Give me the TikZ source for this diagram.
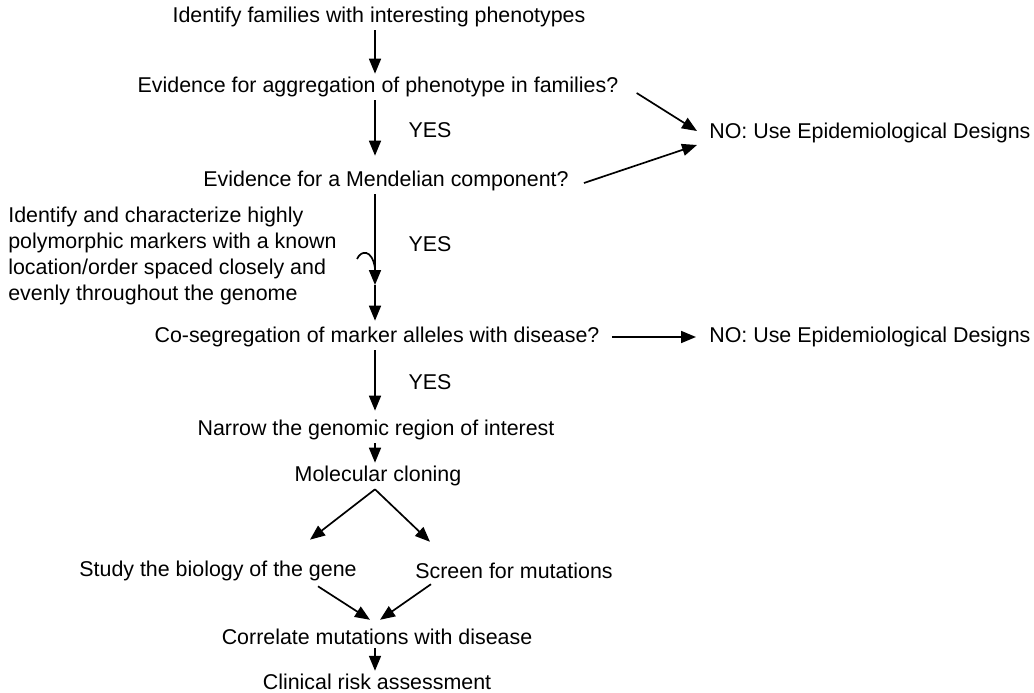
\documentclass[tikz,border=0pt]{standalone}
\usepackage{fontspec}
\setmainfont{Liberation Sans}
\usetikzlibrary{arrows.meta,calc,positioning}

\begin{document}
\begin{tikzpicture}[x=1pt,y=-1pt,font=\fontsize{21.4}{26}\selectfont,>={Triangle[length=15pt,width=12pt]},
    line width=1.7pt,every node/.style={inner sep=2.5pt}]
  \useasboundingbox (0,0) rectangle (1034,693);
  \coordinate (spine) at (375,0);
  % main column
  \node (ident) at (379,17) {Identify families with interesting phenotypes};
  \node (aggr) at (378,87) {Evidence for aggregation of phenotype in families?};
  \node (mendel) at (386,181) {Evidence for a Mendelian component?};
  \node[anchor=west,align=left] (markers) at (5,256)
    {Identify and characterize highly\\polymorphic markers with a known\\location/order spaced closely and\\evenly throughout the genome};
  \node (coseg) at (377,337) {Co-segregation of marker alleles with disease?};
  \node (narrow) at (376,430) {Narrow the genomic region of interest};
  \node (clone) at (378,476) {Molecular cloning};
  \node (biology) at (218,571) {Study the biology of the gene};
  \node (screen) at (514,571) {Screen for mutations};
  \node (correl) at (377,637) {Correlate mutations with disease};
  \node (clinical) at (377,682) {Clinical risk assessment};
  % side branches
  \node[anchor=west] (noA) at (706,133) {NO: Use Epidemiological Designs};
  \node[anchor=west] (noB) at (706,337) {NO: Use Epidemiological Designs};
  \foreach \y/\n in {130/yesA,244/yesB,382/yesC} \node (\n) at (430,\y) {YES};
  \coordinate (join) at (375,285);
  \coordinate (hook) at (357,259);
  % connectors
  \draw[->] (ident.south -| spine) -- (aggr.north -| spine);
  \draw[->,shorten >=12pt] (aggr.south -| spine) -- (mendel.north -| spine);
  \draw[->] (mendel.south -| spine) -- (join);
  \draw[->,shorten >=3pt] (join) -- (coseg.north -| spine);
  \draw (hook) .. controls (361,250) and (372,249) .. (375,268);
  \draw[->,shorten >=6pt] (coseg.south -| spine) -- (narrow.north -| spine);
  \draw[->] (narrow.south -| spine) -- (clone.north -| spine);
  \draw[->] ($(aggr.east)+(15,6)$) -- ($(noA.west)+(-9,-2)$);
  \draw[->] ($(mendel.east)+(12,2)$) -- ($(noA.west)+(-9,12)$);
  \draw[->] ($(coseg.east)+(9,0)$) -- ($(noB.west)+(-10,0)$);
  \draw[->] ($(clone.south)+(-3,0)$) -- ($(biology.north)+(92,-18)$);
  \draw[->] ($(clone.south)+(-3,0)$) -- ($(screen.north)+(-84,-18)$);
  \draw[->] ($(biology.south)+(100,2)$) -- ($(correl.north)+(-7,-6)$);
  \draw[->] ($(screen.south)+(-83,2)$) -- ($(correl.north)+(3,-6)$);
  \draw[->] (correl.south -| spine) -- (clinical.north -| spine);
\end{tikzpicture}
\end{document}
